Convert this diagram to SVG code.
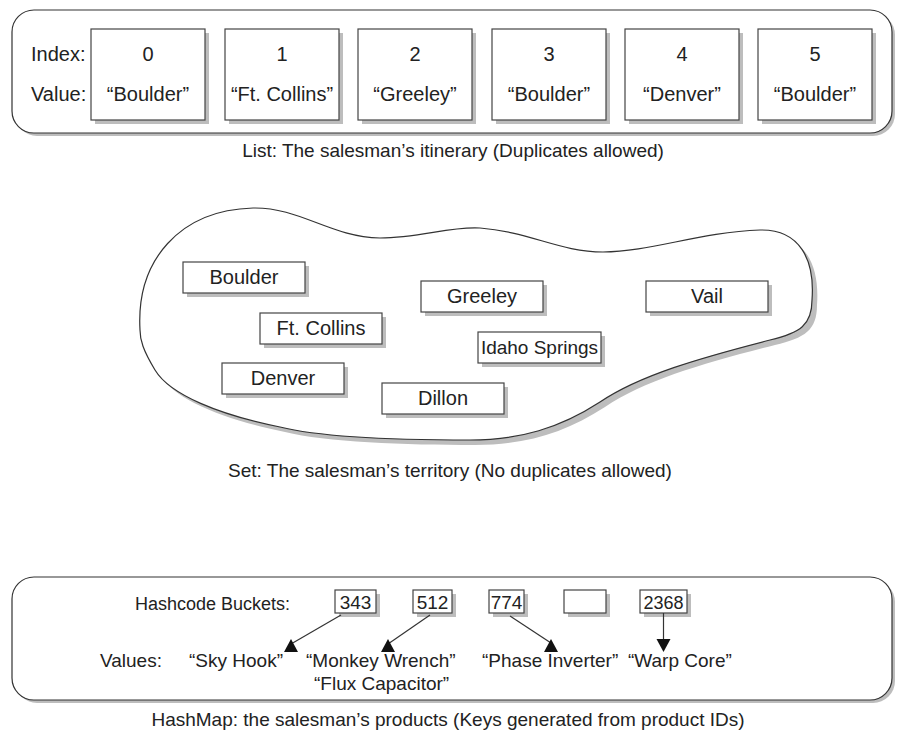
<svg xmlns="http://www.w3.org/2000/svg" width="897" height="737" viewBox="0 0 897 737">
<style>
  text { font-family: "Liberation Sans", Arial, sans-serif; fill: #222; }
  .t20 { font-size: 20px; }
  .t19 { font-size: 19px; }
  .t18 { font-size: 18px; }
  .mid { text-anchor: middle; }
  .end { text-anchor: end; }
  .frame { fill: #fff; stroke: #333; stroke-width: 1.2; }
  .box { fill: #fff; stroke: #444; stroke-width: 1.2; }
  .shadow { fill: #bdbdbd; stroke: none; }
  .conn { stroke: #333; stroke-width: 1.2; fill: none; }
  .head { fill: #111; stroke: none; }
</style>
<rect width="897" height="737" fill="#fff"/>

<!-- ===== List ===== -->
<g id="list">
  <rect class="shadow" x="15" y="13" width="880" height="123" rx="22"/>
  <rect class="frame" x="12" y="10" width="880" height="123" rx="22"/>
  <text class="t20" x="31" y="61">Index:</text>
  <text class="t20" x="31" y="101">Value:</text>
</g>
<g id="list-0">
  <rect class="shadow" x="95" y="33" width="114" height="91"/>
  <rect class="box" x="91" y="29" width="114" height="91"/>
  <text class="t20 mid" x="148" y="61">0</text>
  <text class="t20 mid" x="148" y="101">“Boulder”</text>
</g>
<g id="list-1">
  <rect class="shadow" x="229" y="33" width="114" height="91"/>
  <rect class="box" x="225" y="29" width="114" height="91"/>
  <text class="t20 mid" x="282" y="61">1</text>
  <text class="t20 mid" x="282" y="101">“Ft. Collins”</text>
</g>
<g id="list-2">
  <rect class="shadow" x="362" y="33" width="114" height="91"/>
  <rect class="box" x="358" y="29" width="114" height="91"/>
  <text class="t20 mid" x="415" y="61">2</text>
  <text class="t20 mid" x="415" y="101">“Greeley”</text>
</g>
<g id="list-3">
  <rect class="shadow" x="496" y="33" width="114" height="91"/>
  <rect class="box" x="492" y="29" width="114" height="91"/>
  <text class="t20 mid" x="549" y="61">3</text>
  <text class="t20 mid" x="549" y="101">“Boulder”</text>
</g>
<g id="list-4">
  <rect class="shadow" x="629" y="33" width="114" height="91"/>
  <rect class="box" x="625" y="29" width="114" height="91"/>
  <text class="t20 mid" x="682" y="61">4</text>
  <text class="t20 mid" x="682" y="101">“Denver”</text>
</g>
<g id="list-5">
  <rect class="shadow" x="762" y="33" width="114" height="91"/>
  <rect class="box" x="758" y="29" width="114" height="91"/>
  <text class="t20 mid" x="815" y="61">5</text>
  <text class="t20 mid" x="815" y="101">“Boulder”</text>
</g>
<text class="t19 mid" x="453" y="157">List: The salesman’s itinerary (Duplicates allowed)</text>

<!-- ===== Set ===== -->
<g id="set">
  <path class="shadow" transform="translate(5,5)" d="M140,330 C136,260 180,210 253,208 C300,207 330,237 380,238 C420,238 450,226 480,228 C530,232 560,252 603,252 C650,252 700,232 760,230 C800,229 815,260 812,300 C812,325 800,333 770,340 C700,358 640,375 600,402 C560,428 520,440 470,440 C400,440 320,437 280,427 C220,415 170,395 155,370 C143,350 140,340 140,330 Z"/>
  <path class="frame" d="M140,330 C136,260 180,210 253,208 C300,207 330,237 380,238 C420,238 450,226 480,228 C530,232 560,252 603,252 C650,252 700,232 760,230 C800,229 815,260 812,300 C812,325 800,333 770,340 C700,358 640,375 600,402 C560,428 520,440 470,440 C400,440 320,437 280,427 C220,415 170,395 155,370 C143,350 140,340 140,330 Z"/>
</g>
<g id="set-boulder">
  <rect class="shadow" x="187" y="266" width="122" height="31"/>
  <rect class="box" x="183" y="262" width="122" height="31"/>
  <text class="t20 mid" x="244" y="284">Boulder</text>
</g>
<g id="set-ftcollins">
  <rect class="shadow" x="264" y="317" width="122" height="31"/>
  <rect class="box" x="260" y="313" width="122" height="31"/>
  <text class="t20 mid" x="321" y="335">Ft. Collins</text>
</g>
<g id="set-denver">
  <rect class="shadow" x="226" y="367" width="122" height="31"/>
  <rect class="box" x="222" y="363" width="122" height="31"/>
  <text class="t20 mid" x="283" y="385">Denver</text>
</g>
<g id="set-dillon">
  <rect class="shadow" x="386" y="387" width="122" height="31"/>
  <rect class="box" x="382" y="383" width="122" height="31"/>
  <text class="t20 mid" x="443" y="405">Dillon</text>
</g>
<g id="set-greeley">
  <rect class="shadow" x="425" y="285" width="122" height="31"/>
  <rect class="box" x="421" y="281" width="122" height="31"/>
  <text class="t20 mid" x="482" y="303">Greeley</text>
</g>
<g id="set-idaho">
  <rect class="shadow" x="482" y="336" width="123" height="31"/>
  <rect class="box" x="478" y="332" width="123" height="31"/>
  <text class="t19 mid" x="539.5" y="354">Idaho Springs</text>
</g>
<g id="set-vail">
  <rect class="shadow" x="650" y="285" width="122" height="31"/>
  <rect class="box" x="646" y="281" width="122" height="31"/>
  <text class="t20 mid" x="707" y="303">Vail</text>
</g>
<text class="t19 mid" x="450" y="477">Set: The salesman’s territory (No duplicates allowed)</text>

<!-- ===== HashMap ===== -->
<g id="hashmap">
  <rect class="shadow" x="15" y="580" width="880" height="123" rx="22"/>
  <rect class="frame" x="12" y="577" width="880" height="123" rx="22"/>
  <text class="t18 end" x="290" y="610">Hashcode Buckets:</text>
</g>
<g id="bucket-343">
  <rect class="shadow" x="339" y="594" width="41" height="23"/>
  <rect class="box" x="335" y="590" width="41" height="23"/>
  <text class="t19 mid" x="355.5" y="609">343</text>
</g>
<g id="bucket-512">
  <rect class="shadow" x="417" y="594" width="39" height="23"/>
  <rect class="box" x="413" y="590" width="39" height="23"/>
  <text class="t19 mid" x="432.5" y="609">512</text>
</g>
<g id="bucket-774">
  <rect class="shadow" x="493" y="594" width="35" height="23"/>
  <rect class="box" x="489" y="590" width="35" height="23"/>
  <text class="t19 mid" x="506.5" y="609">774</text>
</g>
<g id="bucket-empty">
  <rect class="shadow" x="568" y="594" width="42" height="23"/>
  <rect class="box" x="564" y="590" width="42" height="23"/>
</g>
<g id="bucket-2368">
  <rect class="shadow" x="644" y="594" width="47" height="23"/>
  <rect class="box" x="640" y="590" width="47" height="23"/>
  <text class="t18 mid" x="663.5" y="609">2368</text>
</g>
<g id="values">
  <text class="t19" x="100" y="667">Values:</text>
  <text class="t19" x="189" y="667">“Sky Hook”</text>
  <text class="t19" x="306" y="667">“Monkey Wrench”</text>
  <text class="t19" x="314" y="690">“Flux Capacitor”</text>
  <text class="t19" x="482" y="667">“Phase Inverter”</text>
  <text class="t19" x="628" y="667">“Warp Core”</text>
</g>
<g id="connectors">
  <line class="conn" x1="341" y1="615" x2="291" y2="644"/>
  <polygon class="head" points="291,639 284,652 298,652"/>
  <line class="conn" x1="430" y1="615" x2="388" y2="644"/>
  <polygon class="head" points="388,639 381,652 395,652"/>
  <line class="conn" x1="510" y1="616" x2="551" y2="643"/>
  <polygon class="head" points="551,639 544,652 558,652"/>
  <line class="conn" x1="663.5" y1="613" x2="663.5" y2="642"/>
  <polygon class="head" points="656.5,639 670.5,639 663.5,652"/>
</g>
<text class="t19 mid" x="448" y="726">HashMap: the salesman’s products (Keys generated from product IDs)</text>
</svg>
